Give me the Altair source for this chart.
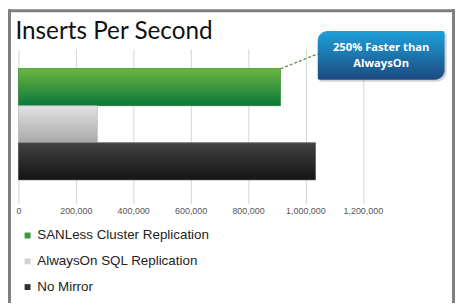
import altair as alt
import pandas as pd

categories = ["SANLess Cluster Replication", "AlwaysOn SQL Replication", "No Mirror"]
values = [913000, 275000, 1035000]
legend_colors = ["#3b9a3e", "#d2d2d2", "#333333"]
tick_values = [0, 200000, 400000, 600000, 800000, 1000000, 1200000]
title_text = "Inserts Per Second"
callout_lines = ["250% Faster than", "AlwaysOn"]

df = pd.DataFrame({"cat": categories, "value": values})
one = pd.DataFrame({"a": [0]})

FONT = "Liberation Sans"
W, H = 347.5, 152

x_scale = alt.Scale(domain=[0, 1200000], nice=False)
y_scale = alt.Scale(domain=categories, paddingInner=0, paddingOuter=0.53)

x_enc = alt.X("value:Q", scale=x_scale,
              axis=alt.Axis(values=tick_values, format=",d", title=None,
                            labelFont=FONT, labelFontSize=9, labelColor="#555555",
                            labelOverlap=False, labelFlush=False,
                            grid=True, gridColor="#d4d4d4", gridWidth=1,
                            domain=False, ticks=True, tickColor="#d4d4d4", tickSize=4,
                            labelPadding=3))
y_enc = alt.Y("cat:N", scale=y_scale, axis=None, sort=categories)

base = alt.Chart(df).mark_bar().encode(
    x=x_enc, y=y_enc,
    color=alt.Color("cat:N", scale=alt.Scale(domain=categories, range=legend_colors),
                    sort=categories,
                    legend=alt.Legend(orient="none", legendX=2.5, legendY=181.5, title=None,
                                      symbolType="square", symbolSize=36,
                                      symbolStrokeWidth=0, labelOffset=3,
                                      labelFont=FONT, labelFontSize=13.5, labelColor="#222222",
                                      rowPadding=11, padding=0, labelLimit=300)),
)

def grad(c1, c2):
    return alt.Gradient(gradient="linear",
                        stops=[alt.GradientStop(color=c1, offset=0),
                               alt.GradientStop(color=c2, offset=1)],
                        x1=0, x2=0, y1=0, y2=1)

grads = [grad("#6cb540", "#0a783b"), grad("#e2e2e2", "#a8a8a8"), grad("#424242", "#141414")]
strokes = ["#3a8a3a", "#b8b8b8", "#666666"]

overlays = []
for cat, g, s in zip(categories, grads, strokes):
    overlays.append(
        alt.Chart(df).transform_filter(alt.datum.cat == cat)
        .mark_bar(color=g, stroke=s, strokeWidth=0.6)
        .encode(x="value:Q", y=alt.Y("cat:N", sort=categories))
    )

# dashed leader from the green bar's end to the callout's left edge
leader = (
    alt.Chart(df)
    .transform_filter(alt.datum.cat == categories[0])
    .transform_calculate(xend="302 / %s * 1200000" % W)
    .mark_rule(color="#5b8c3e", strokeDash=[3, 2], strokeWidth=1.3)
    .encode(x="value:Q", x2="xend:Q", y=alt.value(20), y2=alt.value(5))
)

# callout box
shadow = alt.Chart(one).mark_rect(
    color="#000000", opacity=0.18,
    cornerRadiusTopLeft=10, cornerRadiusBottomRight=10,
    cornerRadiusTopRight=2, cornerRadiusBottomLeft=2,
).encode(x=alt.value(303.5), x2=alt.value(432), y=alt.value(-16), y2=alt.value(33))

box = alt.Chart(one).mark_rect(
    color=grad("#1ea0da", "#1c4a80"),
    cornerRadiusTopLeft=10, cornerRadiusBottomRight=10,
    cornerRadiusTopRight=2, cornerRadiusBottomLeft=2,
).encode(x=alt.value(302), x2=alt.value(430), y=alt.value(-18), y2=alt.value(31))

callout_texts = []
for line, yy in zip(callout_lines, [-1, 15.5]):
    callout_texts.append(
        alt.Chart(one).mark_text(
            text=line, font="Open Sans", fontWeight="bold", fontSize=11.3, color="white",
            align="center", baseline="middle"
        ).encode(x=alt.value(366), y=alt.value(yy))
    )

title = alt.Chart(one).mark_text(
    text=title_text, font="Lato", fontSize=24.5, color="#111111",
    align="left", baseline="alphabetic"
).encode(x=alt.value(-3), y=alt.value(-10.5))

# frame around the slide
frame_col = "#7f7f7f"
frame_left = alt.Chart(one).mark_rule(color=frame_col, strokeWidth=3).encode(
    x=alt.value(-9), y=alt.value(-40), y2=alt.value(260))
frame_top = alt.Chart(one).mark_rule(color=frame_col, strokeWidth=3).encode(
    x=alt.value(-10.5), x2=alt.value(440.5), y=alt.value(-38.5))
frame_right = alt.Chart(one).mark_rule(color=frame_col, strokeWidth=3).encode(
    x=alt.value(439), y=alt.value(-40), y2=alt.value(260))

layers = [base, *overlays, leader, shadow, box, *callout_texts, title,
          frame_left, frame_top, frame_right]

chart = alt.layer(*layers).properties(
    width=W, height=H,
    autosize=alt.AutoSizeParams(type="none"),
    padding={"left": 10.5, "top": 40, "right": 93, "bottom": 103},
    background="white",
).configure_view(stroke=None)

chart.save("out.html", embed_options={"renderer": "svg", "actions": False})
